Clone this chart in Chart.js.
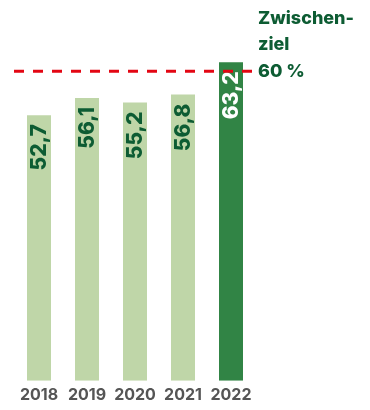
<!DOCTYPE html>
<html lang="de">
<head>
    <meta charset="UTF-8">
    <title>Zwischenziel 60 %</title>
    <script src="https://cdn.jsdelivr.net/npm/chart.js"></script>
    <style>
        body {
            margin: 0;
            background: #fff;
        }
        .chart-container {
            width: 370px;
            height: 410px;
        }
    </style>
</head>
<body>
    <div class="chart-container">
        <canvas id="quoteChart"></canvas>
    </div>

    <script>
        // Daten
        const jahre = ['2018', '2019', '2020', '2021', '2022'];
        const werte = [52.7, 56.1, 55.2, 56.8, 63.2];
        // Lage der Ziellinie, so wie sie im Bild steht (Beschriftung: 60 %)
        const zielLinie = 61.4;
        const zielText = ['Zwischen-', 'ziel', '60 %'];

        const hellGruen = '#bfd6a8';
        const dunkelGruen = '#318445';
        const textGruen = '#0d5c33';
        const schrift = 'Inter, "Open Sans", Arial, sans-serif';

        const fmt = v => v.toFixed(1).replace('.', ',');

        // Ziellinie, Beschriftung und Werte in den Balken
        const zielPlugin = {
            id: 'ziel',
            afterDatasetsDraw(chart) {
                const { ctx, chartArea, scales } = chart;
                const y = scales.y.getPixelForValue(zielLinie);

                // Werte in den Balken (gedreht)
                const meta = chart.getDatasetMeta(0);
                meta.data.forEach((bar, i) => {
                    ctx.save();
                    ctx.translate(bar.x, bar.y + 9);
                    ctx.rotate(-Math.PI / 2);
                    ctx.font = '800 21px ' + schrift;
                    ctx.fillStyle = i === werte.length - 1 ? '#ffffff' : textGruen;
                    ctx.textAlign = 'right';
                    ctx.textBaseline = 'middle';
                    ctx.fillText(fmt(werte[i]), 0, 1);
                    ctx.restore();
                });

                // gestrichelte Linie
                ctx.save();
                ctx.strokeStyle = '#e30613';
                ctx.lineWidth = 3;
                ctx.setLineDash([10, 9]);
                ctx.beginPath();
                ctx.moveTo(chartArea.left - 1, y);
                ctx.lineTo(chartArea.right - 1, y);
                ctx.stroke();
                ctx.restore();

                // Beschriftung
                ctx.save();
                ctx.font = '800 18px ' + schrift;
                ctx.fillStyle = textGruen;
                ctx.textAlign = 'left';
                ctx.textBaseline = 'middle';
                const x = chartArea.right + 3;
                ctx.fillText(zielText[0], x, y - 53);
                ctx.fillText(zielText[1], x, y - 27);
                ctx.fillText(zielText[2], x, y);
                ctx.restore();
            }
        };

        const ctx = document.getElementById('quoteChart').getContext('2d');
        new Chart(ctx, {
            type: 'bar',
            data: {
                labels: jahre,
                datasets: [{
                    data: werte,
                    backgroundColor: werte.map((v, i) => i === werte.length - 1 ? dunkelGruen : hellGruen),
                    borderWidth: 0,
                    barPercentage: 1,
                    categoryPercentage: 0.5
                }]
            },
            options: {
                responsive: true,
                maintainAspectRatio: false,
                animation: false,
                layout: {
                    padding: { left: 15, right: 115, top: 28, bottom: 0 }
                },
                plugins: {
                    legend: { display: false },
                    tooltip: { enabled: false }
                },
                scales: {
                    x: {
                        grid: { display: false, drawTicks: false },
                        border: { display: false },
                        ticks: {
                            color: '#555555',
                            padding: 5,
                            font: { family: schrift, size: 16, weight: 'bold' }
                        }
                    },
                    y: {
                        display: false,
                        min: 0,
                        max: 70
                    }
                }
            },
            plugins: [zielPlugin]
        });
    </script>
</body>
</html>
